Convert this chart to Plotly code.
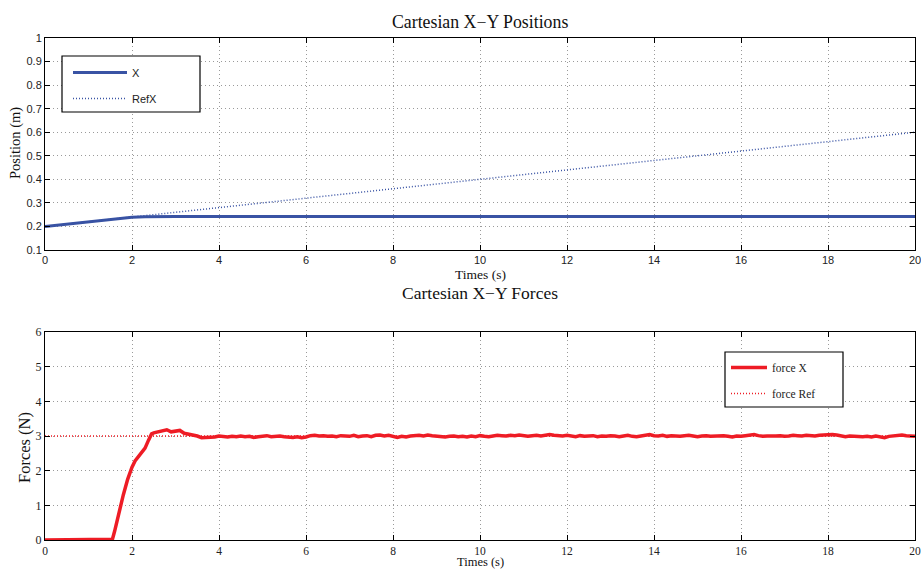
import numpy as np
import plotly.graph_objects as go
from plotly.subplots import make_subplots

# ---- position data (m) ----
pos_t = [0, 0.5, 1.0, 1.5, 2.0, 2.3, 2.6, 3.0, 5, 8, 10, 12, 14, 16, 18, 20]
pos_x = [0.200, 0.210, 0.220, 0.230, 0.239, 0.241, 0.242, 0.242, 0.242, 0.242,
         0.242, 0.242, 0.242, 0.242, 0.242, 0.242]
ref_t = [0, 20]
ref_x = [0.2, 0.6]

# ---- force data (N) ----
force_t_start = [0, 0.5, 1.0, 1.5, 1.55, 1.6, 1.7, 1.8, 1.9, 1.95, 2.0, 2.07, 2.13,
                 2.2, 2.3, 2.38, 2.45, 2.5, 2.6, 2.7, 2.8, 2.9, 3.0, 3.1, 3.2,
                 3.3, 3.4, 3.5]
force_v_start = [0, 0, 0, 0, 0.02, 0.25, 0.80, 1.30, 1.75, 1.95, 2.10, 2.28, 2.38,
                 2.50, 2.65, 2.88, 3.06, 3.09, 3.12, 3.14, 3.18, 3.12, 3.14, 3.16,
                 3.08, 3.06, 3.03, 3.00]
force_v_steady = [
    2.95, 2.96, 2.95, 2.97, 3.00, 2.98, 2.97, 2.99, 2.98, 3.00,
    2.98, 2.99, 2.96, 2.98, 3.00, 3.01, 2.98, 2.99, 3.00, 2.98,
    2.97, 2.96, 2.98, 2.95, 2.97, 3.01, 3.02, 3.00, 3.01, 2.99,
    3.00, 2.98, 3.01, 3.00, 2.99, 3.02, 2.98, 3.00, 3.01, 2.98,
    3.02, 3.03, 3.00, 3.02, 2.98, 2.96, 2.99, 2.97, 3.00, 3.01,
    3.02, 3.00, 3.03, 3.01, 2.99, 2.98, 2.97, 2.99, 3.00, 2.98,
    2.99, 2.97, 3.00, 2.98, 3.01, 2.99, 2.98, 3.00, 3.02, 3.01,
    3.00, 3.02, 3.01, 3.03, 3.00, 2.99, 3.01, 3.02, 3.00, 3.03,
    3.04, 3.02, 3.01, 3.00, 3.02, 3.00, 2.98, 3.01, 2.99, 3.00,
    3.01, 2.98, 3.00, 2.99, 3.01, 3.00, 2.98, 3.00, 3.02, 2.99,
    2.98, 3.00, 3.02, 3.04, 3.01, 3.00, 3.02, 2.99, 3.01, 3.00,
    2.99, 3.01, 3.02, 3.00, 2.98, 3.00, 3.01, 2.99, 3.00, 3.02,
    3.01, 2.99, 2.97, 3.00, 2.99, 3.01, 3.02, 3.04, 3.01, 2.99,
    3.00, 2.99, 3.00, 3.01, 2.99, 3.00, 3.02, 3.01, 3.00, 3.02,
    3.01, 3.00, 3.02, 3.03, 3.02, 3.04, 3.03, 3.01, 2.98, 3.00,
    2.99, 3.00, 2.98, 2.99, 2.97, 3.00, 2.98, 2.95, 2.99, 3.01,
    3.02, 3.03, 3.01, 3.00, 2.99,
]
force_t_steady = list(np.round(np.arange(3.6, 20.0001, 0.1), 2))
force_t = force_t_start + force_t_steady
force_v = force_v_start + force_v_steady
force_ref_t = [0, 20]
force_ref_v = [3, 3]

x_ticks = list(range(0, 21, 2))
pos_ticks = [0.1, 0.2, 0.3, 0.4, 0.5, 0.6, 0.7, 0.8, 0.9, 1]
pos_tick_text = ["0.1", "0.2", "0.3", "0.4", "0.5", "0.6", "0.7", "0.8", "0.9", "1"]
force_ticks = [0, 1, 2, 3, 4, 5, 6]

BLUE = "#3953a4"
RED = "#ee1c25"
SANS = "Liberation Sans, Arial, sans-serif"
SERIF = "Liberation Serif, Times New Roman, serif"

W, H = 921, 570
ML, MR, MT, MB = 45, 6, 38, 30
PW, PH = W - ML - MR, H - MT - MB


def px_x(px):
    """Pixel column -> paper x."""
    return (px - ML) / PW


def px_y(py):
    """Pixel row -> paper y."""
    return (H - MB - py) / PH


fig = make_subplots(rows=2, cols=1, row_heights=[212, 208],
                    vertical_spacing=82 / PH)

fig.add_trace(go.Scatter(x=pos_t, y=pos_x, mode="lines", name="X", legendgroup="a",
                         line=dict(color=BLUE, width=3), legend="legend"), row=1, col=1)
fig.add_trace(go.Scatter(x=ref_t, y=ref_x, mode="lines", name="RefX", legendgroup="b",
                         line=dict(color=BLUE, width=1.5, dash="1px,2px"), legend="legend"),
              row=1, col=1)

fig.add_trace(go.Scatter(x=force_ref_t, y=force_ref_v, mode="lines", name="force Ref",
                         legendgroup="d", line=dict(color=RED, width=1.5, dash="1px,2px"),
                         legend="legend2", legendrank=2), row=2, col=1)
fig.add_trace(go.Scatter(x=force_t, y=force_v, mode="lines", name="force X",
                         legendgroup="c", line=dict(color=RED, width=3.5),
                         legend="legend2", legendrank=1), row=2, col=1)

axis_common = dict(showline=True, linecolor="black", linewidth=1, mirror="ticks",
                   ticks="inside", ticklen=5, tickcolor="black", automargin=False,
                   showgrid=True, gridcolor="#9a9a9a", griddash="1px,3px", gridwidth=1,
                   zeroline=False, ticklabeloverflow="allow")

fig.update_xaxes(range=[0, 20], tickvals=x_ticks, **axis_common)
fig.update_xaxes(row=1, col=1, tickfont=dict(family=SANS, size=11, color="#222"))
fig.update_xaxes(row=2, col=1, tickfont=dict(family=SERIF, size=11.5, color="#222"))
fig.update_yaxes(row=1, col=1, range=[0.1, 1], tickvals=pos_ticks, ticktext=pos_tick_text,
                 tickfont=dict(family=SANS, size=11, color="#222"), **axis_common)
fig.update_yaxes(row=2, col=1, range=[0, 6], tickvals=force_ticks,
                 tickfont=dict(family=SERIF, size=12, color="#222"), **axis_common)


def text_note(text, x, y, size, angle=0, yanchor="middle"):
    return dict(text=text, x=x, y=y, xref="paper", yref="paper", xanchor="center",
                yanchor=yanchor, showarrow=False, textangle=angle, borderpad=0,
                font=dict(family=SERIF, size=size, color="#111"))


annotations = [
    text_note("Cartesian X\u2212Y Positions", 0.5, px_y(22), 17.8),
    text_note("Cartesian X\u2212Y Forces", 0.5, px_y(293), 17.5),
    text_note("Times (s)", 0.5, px_y(274), 13.5),
    text_note("Times (s)", 0.5, px_y(570), 12.5, yanchor="bottom"),
    text_note("Position (m)", px_x(15), px_y(143), 14.5, -90),
    text_note("Forces (N)", px_x(25), px_y(448), 16.5, -90),
]

# legend frames
shapes = [
    dict(type="rect", xref="paper", yref="paper", x0=px_x(62), x1=px_x(200),
         y0=px_y(112), y1=px_y(56), line=dict(color="black", width=1.2),
         fillcolor="white", layer="above"),
    dict(type="rect", xref="paper", yref="paper", x0=px_x(725), x1=px_x(843),
         y0=px_y(407), y1=px_y(352), line=dict(color="black", width=1.2),
         fillcolor="white", layer="above"),
]

fig.update_layout(
    width=W, height=H,
    margin=dict(l=ML, r=MR, t=MT, b=MB),
    plot_bgcolor="white", paper_bgcolor="white",
    showlegend=True,
    legend=dict(x=px_x(68), y=px_y(58), xanchor="left", yanchor="top",
                borderwidth=0, bgcolor="rgba(0,0,0,0)",
                font=dict(family=SANS, size=11, color="#222"),
                traceorder="grouped", tracegroupgap=7, itemwidth=54),
    legend2=dict(x=px_x(726), y=px_y(353), xanchor="left", yanchor="top",
                 borderwidth=0, bgcolor="rgba(0,0,0,0)",
                 font=dict(family=SERIF, size=11.5, color="#222"),
                 traceorder="grouped", tracegroupgap=7, itemwidth=36),
    annotations=annotations,
    shapes=shapes,
)

fig.write_html("out.html")
